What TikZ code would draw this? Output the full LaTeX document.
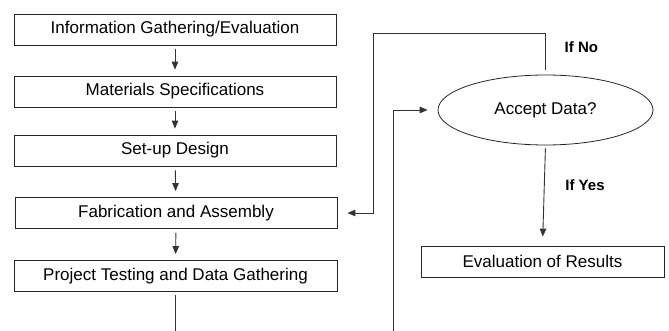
\documentclass[tikz,border=0pt]{standalone}
\usepackage{fontspec}
\setmainfont{Liberation Sans}
\usetikzlibrary{shapes.geometric,arrows.meta}

\begin{document}
\begin{tikzpicture}[x=1pt, y=-1pt,
  stepbox/.style={draw=black!85, line width=0.8pt, minimum height=31pt, inner sep=0pt, font=\fontsize{17}{20}\selectfont},
  decision/.style={ellipse, draw=black!85, line width=0.8pt, minimum width=215pt, minimum height=70pt, inner sep=0pt, font=\fontsize{17}{20}\selectfont},
  link/.style={draw=black!80, line width=0.9pt},
  flow/.style={link, -{Triangle[length=8pt,width=6.5pt]}, shorten <=4pt, shorten >=6pt},
  answer/.style={font=\fontsize{15}{18}\selectfont\bfseries, inner sep=0pt}]
  \useasboundingbox (0,0) rectangle (669,331);
  \clip (0,0) rectangle (669,331);

  % left column
  \node[stepbox, minimum width=322pt] (info) at (175,29.5) {Information Gathering/Evaluation};
  \node[stepbox, minimum width=322pt] (mat) at (175,91.5) {Materials Specifications};
  \node[stepbox, minimum width=322pt] (setup) at (175,150.5) {Set-up Design};
  \node[stepbox, minimum width=322pt] (fab) at (176,213) {Fabrication and Assembly};
  \node[stepbox, minimum width=323pt] (test) at (175.5,276) {Project Testing and Data Gathering};

  % right column
  \node[decision] (dec) at (545.5,110) {Accept Data?};
  \node[stepbox, minimum width=243pt] (eval) at (542.5,261.5) {Evaluation of Results};

  \node[answer, anchor=base] (no) at (581.4,52.7) {If No};
  \node[answer, anchor=base] (yes) at (585,190.7) {If Yes};

  \foreach \a/\b in {info/mat, mat/setup, setup/fab, fab/test}
    \draw[flow] (\a) -- (\b);

  \draw[flow, shorten <=3pt, shorten >=9pt] (dec.south) -- (eval.north);
  \draw[flow, shorten <=5pt, shorten >=10pt] (dec.north) |- (373,33) |- (fab.east);
  \draw[flow, shorten <=3pt, shorten >=10pt] (test.south) -- ++(0,80) -| (393,110) -- (dec.west);
\end{tikzpicture}
\end{document}
